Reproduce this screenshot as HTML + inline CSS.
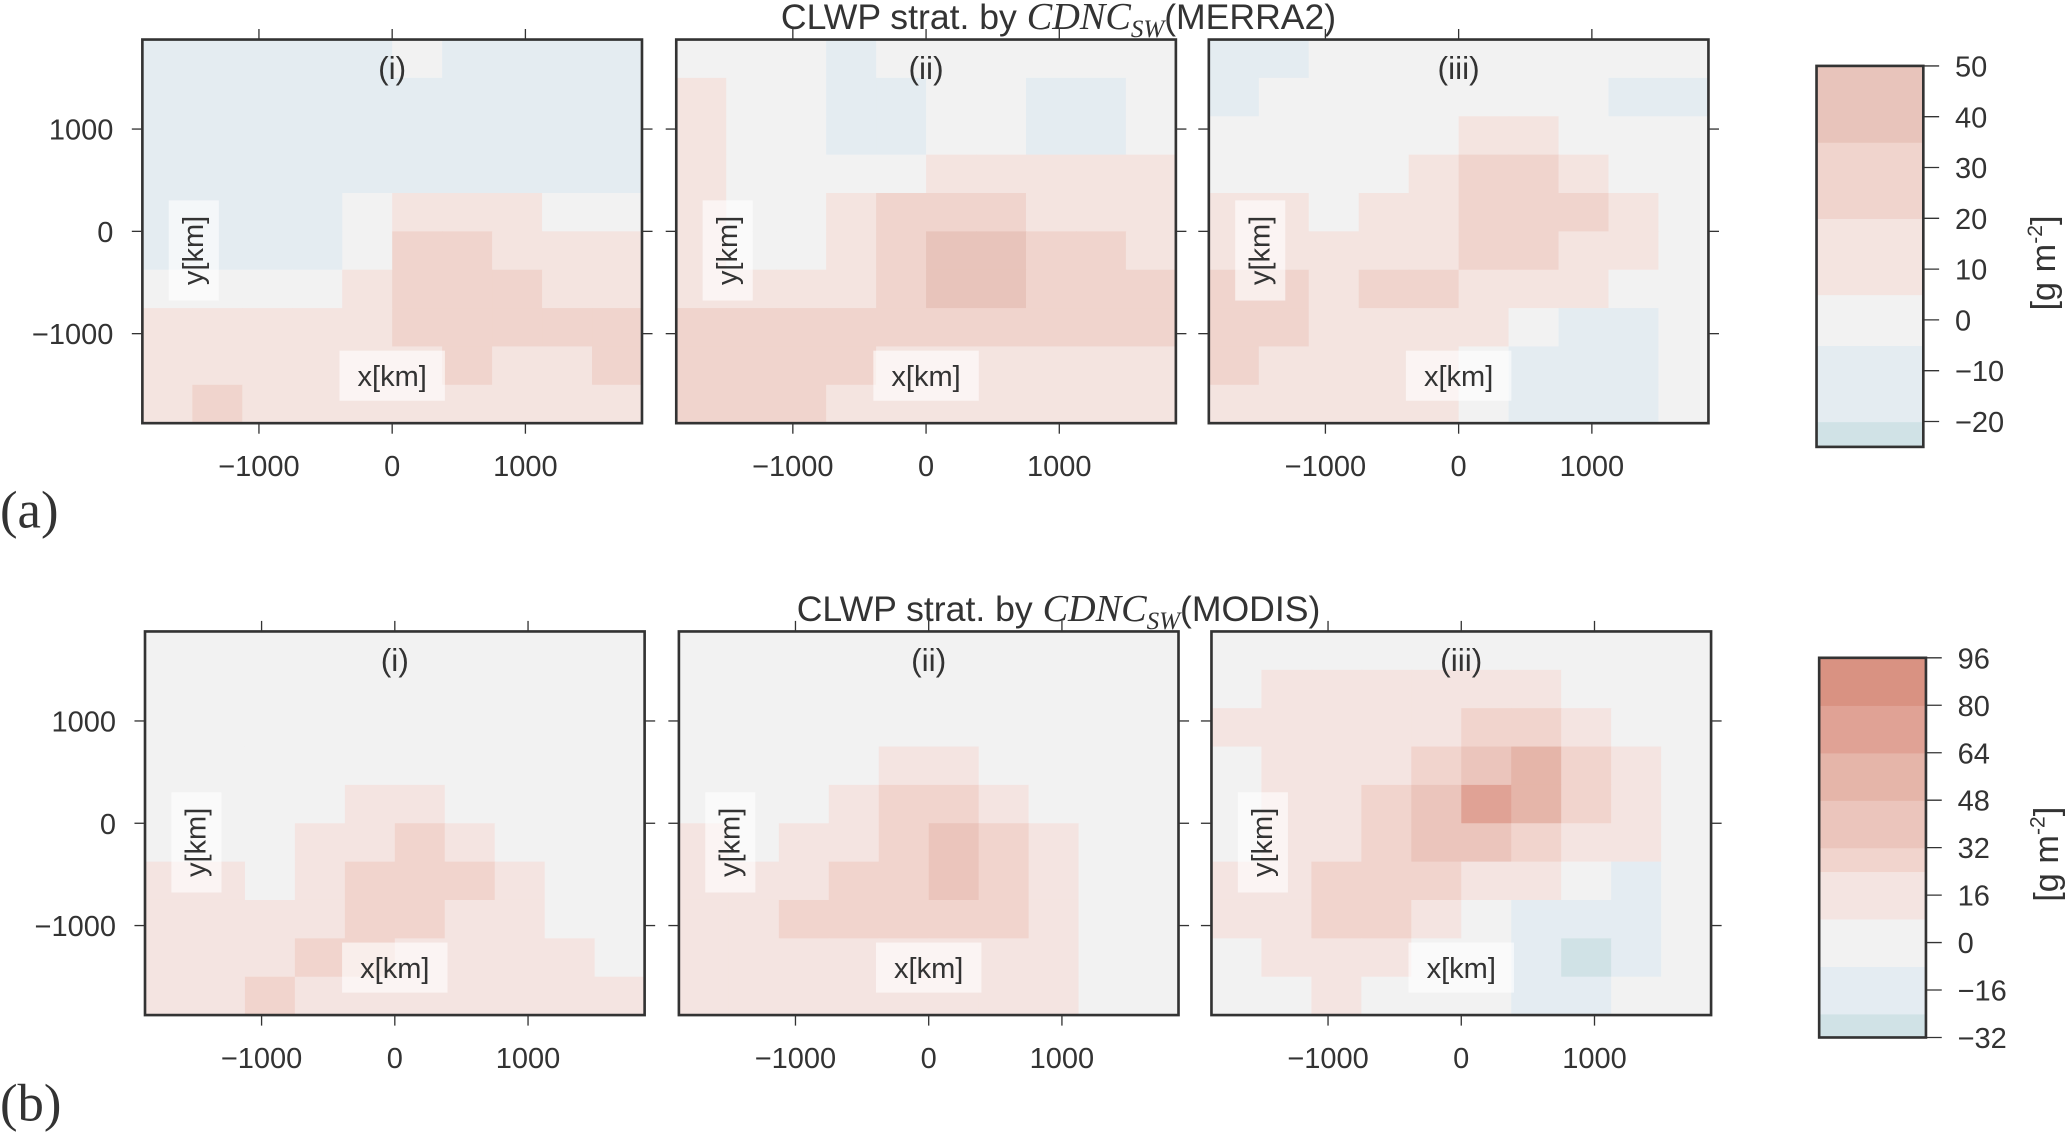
<!DOCTYPE html>
<html><head><meta charset="utf-8"><style>
html,body{margin:0;padding:0;background:#fff;}
svg{display:block;}
text{font-family:"Liberation Sans",sans-serif;fill:#333;}
</style></head><body>
<svg id="fig" width="2067" height="1132" viewBox="0 0 1568 858.7" preserveAspectRatio="none" xmlns="http://www.w3.org/2000/svg">
<g id="root"></g>
</svg>
<script>
// ---- data ----
const xExtent = [-1875, 1875];
const yExtent = [-1875, 1875];
const xTicks = [-1000, 0, 1000];
const yTicks = [1000, 0, -1000];
const panelLabels = ["(i)", "(ii)", "(iii)"];

const levelsA = [-25, -20, -5, 5, 20, 35, 50];
const colorsA = ["#d0e2e6", "#e4ecf1", "#f2f2f2", "#f4e4e0", "#f0d4cd", "#e8c4bb"];
const cbTicksA = [50, 40, 30, 20, 10, 0, -10, -20];

const levelsB = [-32, -24, -8, 8, 24, 32, 48, 64, 80, 96];
const colorsB = ["#d0e2e6", "#e4ecf2", "#f2f2f2", "#f4e4e1", "#f1d4cd", "#ebc5bc", "#e5b5a9", "#e0a295", "#d99282"];
const cbTicksB = [96, 80, 64, 48, 32, 16, 0, -16, -32];

const merraI = [
[-8,-8,-8,-8,-8,0,-8,-8,-8,-8],
[-8,-8,-8,-8,-8,-8,-8,-8,-12,-8],
[-8,-8,-8,-8,-8,-8,-8,-8,-8,-8],
[-8,-8,-8,-8,-8,-8,-8,-8,-8,-8],
[-8,-8,-8,-8,0,10,10,8,3,0],
[-8,-8,-8,-8,0,22,22,15,10,10],
[0,0,0,0,5,22,25,22,15,10],
[10,10,10,10,12,22,25,25,22,22],
[12,12,12,12,12,12,22,15,15,20],
[15,22,12,12,12,12,12,12,12,8]];
const merraII = [
[0,0,0,-8,0,0,0,0,0,0],
[10,0,0,-8,-8,0,0,-8,-8,0],
[10,0,0,-8,-8,0,0,-8,-8,0],
[10,0,0,0,0,10,10,10,10,10],
[10,0,0,10,22,25,22,15,12,12],
[10,0,0,10,22,36,36,22,22,12],
[12,12,10,10,22,36,38,30,22,22],
[22,22,22,22,22,22,25,25,22,22],
[22,22,22,22,12,12,12,12,12,12],
[22,22,22,12,12,12,12,12,12,12]];
const merraIII = [
[-8,-8,0,0,0,0,0,0,0,0],
[-8,0,0,0,0,0,0,0,-8,-8],
[0,0,0,0,0,10,10,0,0,0],
[0,0,0,0,10,22,22,10,0,0],
[10,10,0,10,12,22,22,24,10,0],
[10,12,10,12,12,22,22,12,10,0],
[22,22,12,22,22,12,12,10,0,0],
[25,22,12,12,12,10,0,-8,-8,0],
[22,12,12,12,12,0,-8,-8,-8,0],
[12,12,12,12,10,0,-8,-8,-8,0]];
const modisI = [
[0,0,0,0,0,0,0,0,0,0],
[0,0,0,0,0,0,0,0,0,0],
[0,0,0,0,0,0,0,0,0,0],
[0,0,0,0,0,0,0,0,0,0],
[0,0,0,0,10,10,0,0,0,0],
[0,0,0,10,10,26,10,0,0,0],
[10,10,0,10,26,26,26,10,0,0],
[10,10,10,10,26,26,10,10,0,0],
[10,10,10,26,26,10,10,10,10,0],
[10,10,26,10,10,10,10,10,10,10]];
const modisII = [
[0,0,0,0,0,0,0,0,0,0],
[0,0,0,0,0,0,0,0,0,0],
[0,0,0,0,0,0,0,0,0,0],
[0,0,0,0,10,10,0,0,0,0],
[0,0,0,10,26,26,10,0,0,0],
[10,0,10,10,26,35,26,10,0,0],
[10,10,10,26,26,35,26,10,0,0],
[10,10,26,26,26,26,26,10,0,0],
[10,10,10,10,10,10,10,10,0,0],
[10,10,10,10,10,10,10,10,0,0]];
const modisIII = [
[0,0,0,0,0,0,0,0,0,0],
[0,10,10,10,10,10,10,0,0,0],
[10,10,10,10,10,26,26,10,0,0],
[0,10,10,10,26,40,50,26,10,0],
[0,10,10,26,35,70,55,26,10,0],
[0,10,10,26,35,40,30,10,10,0],
[10,10,26,30,26,10,10,0,-10,0],
[10,10,26,26,10,0,-10,-15,-10,0],
[0,10,10,10,0,0,-15,-28,-10,0],
[0,0,10,0,0,0,-15,-15,0,0]];

// ---- drawing ----
const NS = "http://www.w3.org/2000/svg";
const root = document.getElementById("root");
function mk(tag, attrs, parent) {
  const e = document.createElementNS(NS, tag);
  for (const k in attrs) e.setAttribute(k, attrs[k]);
  (parent || root).appendChild(e);
  return e;
}
function colorFor(v, levels, colors) {
  for (let i = 0; i < colors.length; i++) if (v < levels[i + 1]) return colors[i];
  return colors[colors.length - 1];
}

function drawPanel(px, py, pw, ph, grid, levels, colors, label, name) {
  const g = mk("g", {});
  
  
  const sx = v => px + (v - xExtent[0]) / (xExtent[1] - xExtent[0]) * pw;
  const sy = v => py + (yExtent[1] - v) / (yExtent[1] - yExtent[0]) * ph;
  const rows = grid.length, cols = grid[0].length;
  const dx = (xExtent[1] - xExtent[0]) / cols, dy = (yExtent[1] - yExtent[0]) / rows;
  for (let r = 0; r < rows; r++) for (let c = 0; c < cols; c++) {
    const x0 = sx(xExtent[0] + c * dx), x1 = sx(xExtent[0] + (c + 1) * dx);
    const y0 = sy(yExtent[1] - r * dy), y1 = sy(yExtent[1] - (r + 1) * dy);
    const cell = mk("rect", {x: x0, y: y0, width: x1 - x0 + 0.6, height: y1 - y0 + 0.6, fill: colorFor(grid[r][c], levels, colors)}, g);
    
    
  }
  xTicks.forEach(t => {
    const x = sx(t);
    mk("line", {x1: x, x2: x, y1: py - 8, y2: py, stroke: "#333", "stroke-width": 1}, g);
    mk("line", {x1: x, x2: x, y1: py + ph, y2: py + ph + 8, stroke: "#333", "stroke-width": 1}, g);
    const tl = mk("text", {x: x, y: py + ph + 40, "font-size": 22, "text-anchor": "middle"}, g);
    tl.textContent = (t < 0 ? "\u2212" + (-t) : t);
    
    
  });
  yTicks.forEach(t => {
    const y = sy(t);
    mk("line", {x1: px - 8, x2: px, y1: y, y2: y, stroke: "#333", "stroke-width": 1}, g);
    mk("line", {x1: px + pw, x2: px + pw + 8, y1: y, y2: y, stroke: "#333", "stroke-width": 1}, g);
  });
  const lab = mk("text", {x: px + pw / 2, y: py + 30, "font-size": 24, "text-anchor": "middle"}, g);
  lab.textContent = label;
  
  
  mk("rect", {x: px + pw / 2 - 40, y: py + 236, width: 80, height: 38, fill: "#fff", opacity: 0.6}, g);
  const xl = mk("text", {x: px + pw / 2, y: py + 263, "font-size": 22, "text-anchor": "middle"}, g);
  xl.textContent = "x[km]";
  
  
  mk("rect", {x: px + 20, y: py + 122, width: 38, height: 76, fill: "#fff", opacity: 0.6}, g);
  const yl = mk("text", {x: 0, y: 0, "font-size": 22, "text-anchor": "middle", transform: `translate(${px + 46},${py + 160}) rotate(-90)`}, g);
  yl.textContent = "y[km]";
  
  
  mk("rect", {x: px, y: py, width: pw, height: ph, fill: "none", stroke: "#333", "stroke-width": 2}, g);
  return {sy};
}

function drawRow(top, lefts, grids, levels, colors, names) {
  let sy;
  for (let i = 0; i < 3; i++) {
    const r = drawPanel(lefts[i], top, 379, 291, grids[i], levels, colors, panelLabels[i], names[i]);
    sy = sy || r.sy;
  }
  yTicks.forEach(t => {
    const tl = mk("text", {x: lefts[0] - 22, y: sy(t) + 8, "font-size": 22, "text-anchor": "end"});
    tl.textContent = (t < 0 ? "\u2212" + (-t) : t);
    
    
  });
}

function drawColorbar(x, y, w, h, levels, colors, ticks, name) {
  const g = mk("g", {});
  
  
  const lo = levels[0], hi = levels[levels.length - 1];
  const s = v => y + (hi - v) / (hi - lo) * h;
  for (let i = 0; i < colors.length; i++) {
    const b = mk("rect", {x: x, y: s(levels[i + 1]), width: w, height: s(levels[i]) - s(levels[i + 1]) + 0.5, fill: colors[i]}, g);
    
    
  }
  mk("rect", {x: x, y: y, width: w, height: h, fill: "none", stroke: "#333", "stroke-width": 2}, g);
  ticks.forEach(t => {
    const ty = s(t);
    mk("line", {x1: x + w, x2: x + w + 12, y1: ty, y2: ty, stroke: "#333", "stroke-width": 1}, g);
    const tl = mk("text", {x: x + w + 24, y: ty + 8, "font-size": 22}, g);
    tl.textContent = (t < 0 ? "\u2212" + (-t) : t);
    
    
  });
  const u = mk("text", {x: 0, y: 0, "font-size": 26, "text-anchor": "middle", transform: `translate(${x + w + 100},${y + h / 2 + 5}) rotate(-90)`}, g);
  u.innerHTML = '[g m<tspan dy="-10" font-size="16">-2</tspan><tspan dy="10">]</tspan>';
  
  
}

drawRow(30, [108, 513, 917], [merraI, merraII, merraIII], levelsA, colorsA, ["panel-a-i", "panel-a-ii", "panel-a-iii"]);
drawRow(479, [110, 515, 919], [modisI, modisII, modisIII], levelsB, colorsB, ["panel-b-i", "panel-b-ii", "panel-b-iii"]);
drawColorbar(1378, 50, 81, 289, levelsA, colorsA, cbTicksA, "colorbar-merra2");
drawColorbar(1380, 499, 81, 288, levelsB, colorsB, cbTicksB, "colorbar-modis");

function title(y, src, name) {
  const t = mk("text", {x: 803, y: y, "font-size": 27, "text-anchor": "middle"});
  t.innerHTML = 'CLWP strat. by <tspan font-family="Liberation Serif" font-style="italic" font-size="29">CDNC</tspan><tspan font-family="Liberation Serif" font-style="italic" font-size="19" dy="6">SW</tspan><tspan dy="-6">(' + src + ')</tspan>';
  
  
}
title(22, "MERRA2", "title-merra2");
title(471, "MODIS", "title-modis");

const a = mk("text", {x: 0, y: 400, "font-size": 40, style: "font-family:'Liberation Serif',serif"});
a.textContent = "(a)";


const b = mk("text", {x: 0, y: 850, "font-size": 40, style: "font-family:'Liberation Serif',serif"});
b.textContent = "(b)";


</script>
</body></html>
